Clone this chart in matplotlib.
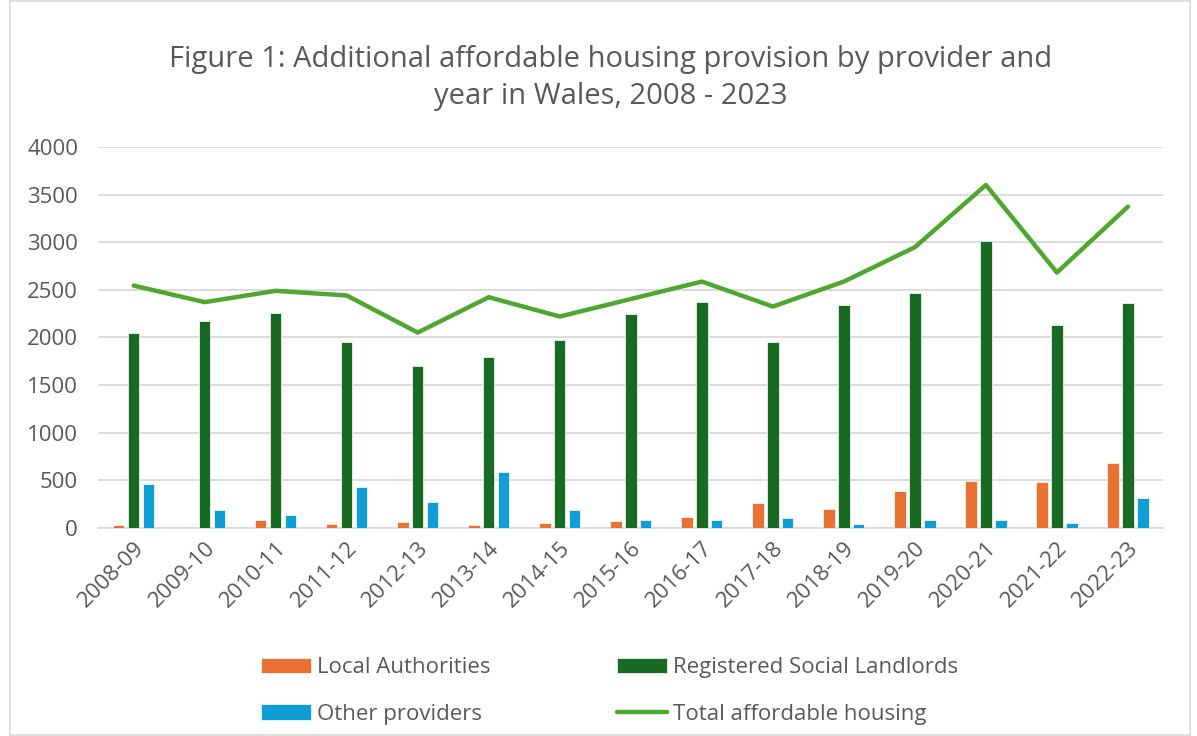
import numpy as np
import matplotlib.pyplot as plt
from matplotlib.patches import Rectangle

plt.rcParams['font.family'] = ['Open Sans', 'DejaVu Sans']

# Data
years = ['2008-09', '2009-10', '2010-11', '2011-12', '2012-13', '2013-14', '2014-15',
         '2015-16', '2016-17', '2017-18', '2018-19', '2019-20', '2020-21', '2021-22', '2022-23']
local_auth = [32, 0, 88, 45, 63, 28, 50, 70, 120, 263, 200, 390, 495, 484, 685]
rsl = [2049, 2168, 2259, 1951, 1705, 1797, 1969, 2248, 2374, 1948, 2339, 2469, 3017, 2133, 2364]
other = [457, 193, 134, 429, 270, 583, 193, 80, 80, 102, 46, 80, 80, 56, 315]
total = [2545, 2371, 2490, 2441, 2052, 2423, 2220, 2404, 2587, 2325, 2587, 2948, 3601, 2682, 3374]

text_col = '#595959'
grid_col = '#d9d9d9'

fig = plt.figure(figsize=(11.97, 7.36), dpi=100)
ax = fig.add_axes([0.082, 0.2826, 0.890, 0.5177])

x = np.arange(len(years))
w = 0.16
off = 0.21
ax.bar(x - off, local_auth, w, color='#E97132', edgecolor='white', linewidth=0.5,
       label='Local Authorities', zorder=3)
ax.bar(x, rsl, w, color='#196B24', edgecolor='white', linewidth=0.5,
       label='Registered Social Landlords', zorder=3)
ax.bar(x + off, other, w, color='#0F9ED5', edgecolor='white', linewidth=0.5,
       label='Other providers', zorder=3)
ax.plot(x, total, color='#4EA72E', linewidth=3.2, solid_joinstyle='round',
        solid_capstyle='round', label='Total affordable housing', zorder=4)

ax.set_xlim(-0.5, len(years) - 0.5)
ax.set_ylim(0, 4000)
ax.set_yticks(np.arange(0, 4001, 500))
ax.yaxis.grid(True, color=grid_col, linewidth=1.3, zorder=0)
ax.set_axisbelow(True)
for s in ['top', 'right', 'left']:
    ax.spines[s].set_visible(False)
ax.spines['bottom'].set_color(grid_col)
ax.spines['bottom'].set_linewidth(1.3)
ax.tick_params(axis='both', length=0, colors=text_col, labelsize=16)
ax.tick_params(axis='y', pad=14.5)
ax.set_xticks(x)
ax.set_xticklabels(years, rotation=45, ha='right', rotation_mode='anchor')
ax.tick_params(axis='x', pad=7)

# Title
fig.text(0.51, 0.894, 'Figure 1: Additional affordable housing provision by provider and\nyear in Wales, 2008 - 2023',
         ha='center', va='center', fontsize=21, color=text_col, linespacing=1.38)

# Legend: two columns
h, l = ax.get_legend_handles_labels()
order = [1, 3, 2, 0]
handles = [h[i] for i in order]
labels = [l[i] for i in order]
leg = fig.legend(handles, labels, ncol=2, loc='center left', bbox_to_anchor=(0.2015, 0.061),
                 frameon=False, fontsize=16, handlelength=2.25, handletextpad=0.27,
                 columnspacing=5.7, labelspacing=1.15, labelcolor=text_col)

# Outer border
fig.patches.append(Rectangle((10 / 1197, 0.002), 1180 / 1197, 0.996, transform=fig.transFigure,
                             fill=False, edgecolor=grid_col, linewidth=1.2))

fig.savefig('out.png', dpi=100)
